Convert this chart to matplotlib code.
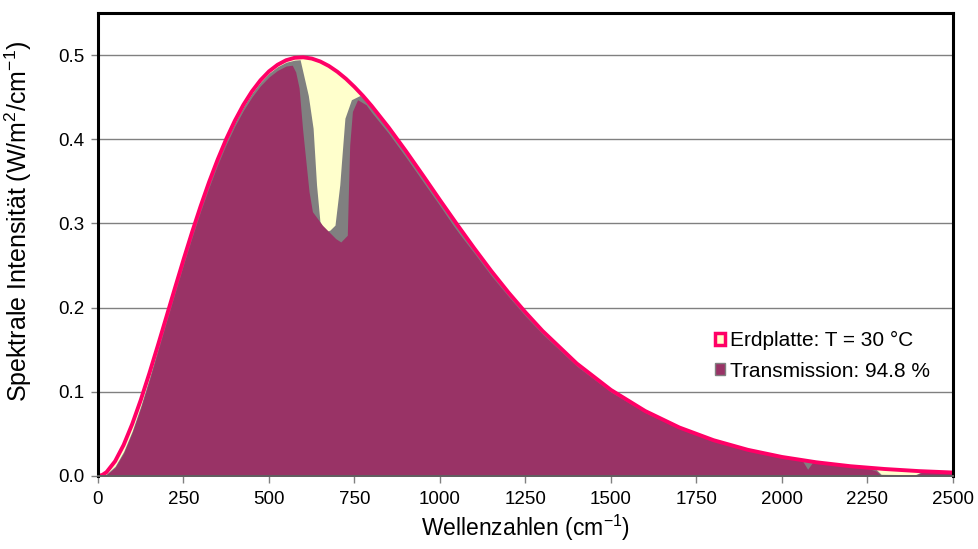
import numpy as np
import matplotlib
matplotlib.use('Agg')
import matplotlib.pyplot as plt
from matplotlib.patches import Patch

plt.rcParams['font.family'] = ['Liberation Sans', 'DejaVu Sans']
plt.rcParams['mathtext.fontset'] = 'custom'
plt.rcParams['mathtext.rm'] = 'Liberation Sans'
plt.rcParams['mathtext.it'] = 'Liberation Sans:italic'

# Planck curve of the plate (T = 30 C)
nu_planck = [0, 12.5, 25, 50, 75, 100, 125, 150, 175, 200, 225, 250, 275, 300,
             325, 350, 375, 400, 425, 450, 475, 500, 525, 550, 575, 600, 625,
             650, 675, 700, 725, 750, 775, 800, 850, 900, 950, 1000, 1050, 1100,
             1150, 1200, 1250, 1300, 1400, 1500, 1600, 1700, 1800, 1900, 2000,
             2100, 2200, 2300, 2400, 2500]
planck = [0.0, 0.0012, 0.0046, 0.0175, 0.0369, 0.0616, 0.0902, 0.1217, 0.1549,
          0.1890, 0.2232, 0.2569, 0.2895, 0.3204, 0.3494, 0.3760, 0.4003, 0.4219,
          0.4408, 0.4568, 0.4701, 0.4807, 0.4885, 0.4939, 0.4968, 0.4974, 0.4959,
          0.4924, 0.4871, 0.4802, 0.4719, 0.4622, 0.4515, 0.4397, 0.4140, 0.3862,
          0.3572, 0.3277, 0.2988, 0.2706, 0.2435, 0.2181, 0.1944, 0.1723, 0.1336,
          0.1022, 0.0772, 0.0576, 0.0425, 0.0311, 0.0226, 0.0163, 0.0116, 0.0083,
          0.0058, 0.0041]

# transmission, upper envelope of the fine spectrum (grey)
nu_upper = [0, 12.5, 25, 50, 75, 100, 125, 150, 175, 200, 225, 250, 275, 300,
            325, 350, 375, 400, 425, 450, 475, 500, 525, 550, 575, 591, 615, 629,
            639, 649, 665, 678, 693, 707, 712, 722, 741, 766, 775, 800, 850, 900,
            950, 1000, 1050, 1100, 1150, 1200, 1250, 1300, 1400, 1500, 1600, 1700,
            1800, 1900, 2000, 2100, 2200, 2250, 2275, 2290, 2390, 2410, 2500]
upper = [0.0, 0.0004, 0.0024, 0.0115, 0.0290, 0.0535, 0.0830, 0.1160, 0.1510,
         0.1860, 0.2205, 0.2545, 0.2870, 0.3180, 0.3470, 0.3738, 0.3980, 0.4196,
         0.4385, 0.4545, 0.4678, 0.4784, 0.4862, 0.4915, 0.4940, 0.4945, 0.452,
         0.413, 0.346, 0.302, 0.290, 0.292, 0.298, 0.346, 0.373, 0.425, 0.447,
         0.452, 0.4490, 0.4372, 0.4115, 0.3838, 0.3548, 0.3255, 0.2968, 0.2688,
         0.2418, 0.2165, 0.1930, 0.1710, 0.1325, 0.1013, 0.0765, 0.0570, 0.0420,
         0.0307, 0.0222, 0.0159, 0.0113, 0.0095, 0.0080, 0.0020, 0.0015, 0.0052,
         0.0039]

# transmission, lower envelope (purple area)
nu_lower = [0, 12.5, 25, 50, 75, 100, 125, 150, 175, 200, 225, 250, 275, 300,
            325, 350, 375, 400, 425, 450, 475, 500, 525, 550, 568, 578, 588, 598,
            603, 617, 627, 656, 695, 710, 729, 732, 736, 744, 759, 784, 800, 850,
            900, 950, 1000, 1040, 1060, 1100, 1150, 1200, 1250, 1300, 1400, 1500,
            1600, 1700, 1800, 1900, 2000, 2060, 2075, 2090, 2200, 2250, 2275,
            2290, 2390, 2410, 2500]
lower = [0.0, 0.0002, 0.0018, 0.0100, 0.0272, 0.0515, 0.0808, 0.1135, 0.1482,
         0.1830, 0.2172, 0.2510, 0.2835, 0.3145, 0.3432, 0.3700, 0.3940, 0.4155,
         0.4342, 0.4502, 0.4635, 0.4740, 0.4818, 0.4870, 0.4880, 0.480, 0.461,
         0.413, 0.393, 0.338, 0.314, 0.298, 0.282, 0.278, 0.286, 0.334, 0.393,
         0.433, 0.447, 0.441, 0.432, 0.407, 0.379, 0.350, 0.321, 0.297, 0.286,
         0.265, 0.238, 0.2135, 0.190, 0.1685, 0.1305, 0.0998, 0.0754, 0.0562,
         0.0414, 0.0302, 0.0218, 0.0180, 0.0080, 0.0165, 0.0109, 0.0091, 0.0060,
         0.0005, 0.0005, 0.0046, 0.0036]

label_planck = 'Erdplatte: T = 30 °C'
label_trans = 'Transmission: 94.8 %'

fig = plt.figure(figsize=(9.79, 5.49), dpi=100)
ax = fig.add_axes([0.1001, 0.1330, 0.8733, 0.8433])

ax.fill_between(nu_planck, planck, color='#FFFFCC', lw=0, zorder=2)
ax.fill_between(nu_upper, upper, color='#808080', lw=0, zorder=3)
ax.fill_between(nu_lower, lower, color='#993366', lw=0, zorder=4)
ax.plot(nu_planck, planck, color='#FF0066', lw=2.8, zorder=5,
        solid_joinstyle='round')

ax.set_xlim(0, 2500)
ax.set_ylim(0, 0.55)
ax.set_xticks(np.arange(0, 2501, 250))
ax.set_yticks(np.arange(0, 0.51, 0.1))
ax.set_yticklabels(['%.1f' % v for v in np.arange(0, 0.51, 0.1)])
ax.grid(axis='y', color='#808080', lw=1.0, zorder=0)
ax.set_axisbelow(True)
ax.tick_params(labelsize=13.5, direction='out', length=5, color='#808080', width=1)
ax.tick_params(axis='x', pad=6)
ax.tick_params(axis='y', pad=5)

for s in ['left', 'top', 'right']:
    ax.spines[s].set_color('black')
    ax.spines[s].set_linewidth(2.2)
ax.spines['bottom'].set_color('#606060')
ax.spines['bottom'].set_linewidth(1.4)
for s in ax.spines.values():
    s.set_zorder(6)

ax.set_xlabel(r'Wellenzahlen (cm$^\mathregular{-1}$)', fontsize=16.5)
ax.xaxis.set_label_coords(0.5, -0.08)
ax.set_ylabel(r'Spektrale Intensität (W/m$^\mathregular{2}$/cm$^\mathregular{-1}$)',
              fontsize=18)
ax.yaxis.set_label_coords(-0.075, 0.549)

handles = [Patch(facecolor='#FFFFCC', edgecolor='#FF0066', lw=2.5, label=label_planck),
           Patch(facecolor='#993366', edgecolor='#808080', lw=1, label=label_trans)]
ax.legend(handles=handles, loc='upper left', bbox_to_anchor=(0.7095, 0.335),
          frameon=False, fontsize=15, handlelength=0.5, handleheight=0.5,
          handletextpad=0.2, labelspacing=0.55, borderpad=0)

plt.savefig('out.png', dpi=100)
